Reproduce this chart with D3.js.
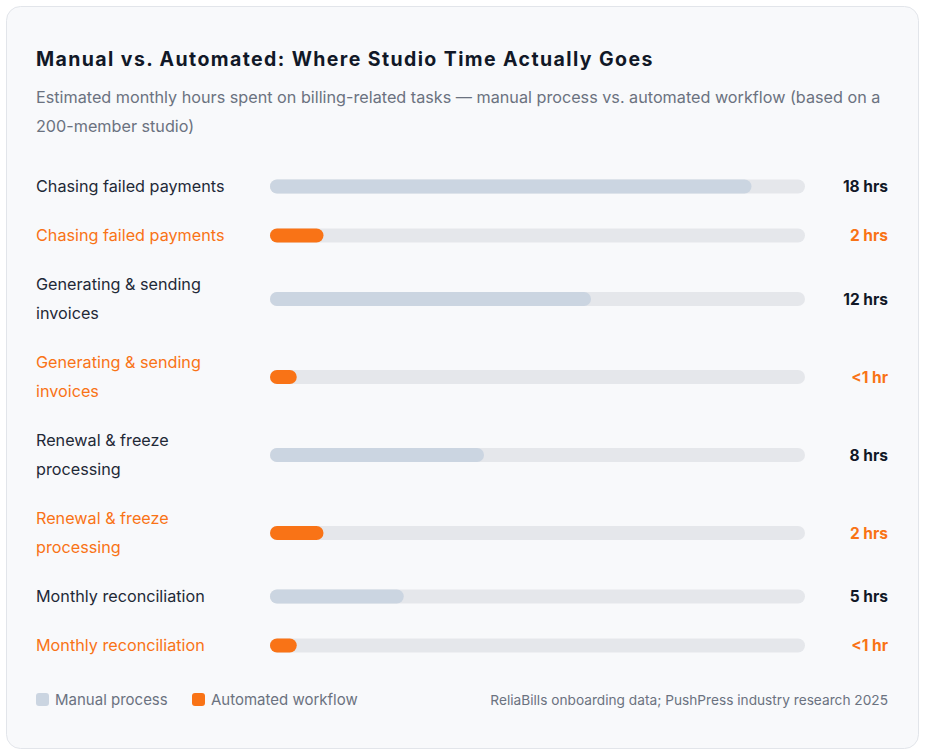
<!DOCTYPE html>
<html><head><meta charset="utf-8">
<script src="https://cdn.jsdelivr.net/npm/d3@7"></script>
<style>
body{margin:0;background:#fff;font-family:Inter,"Noto Sans",sans-serif;}
</style></head>
<body><div id="plot"></div>
<script>
// data
var tasks = ["Chasing failed payments","Chasing failed payments","Generating & sending invoices","Generating & sending invoices","Renewal & freeze processing","Renewal & freeze processing","Monthly reconciliation","Monthly reconciliation"];
var labelLines = [["Chasing failed payments"],["Chasing failed payments"],["Generating & sending","invoices"],["Generating & sending","invoices"],["Renewal & freeze","processing"],["Renewal & freeze","processing"],["Monthly reconciliation"],["Monthly reconciliation"]];
var kinds = ["manual","auto","manual","auto","manual","auto","manual","auto"];
var hours = [18,2,12,1,8,2,5,1];
var valueLabels = ["18 hrs","2 hrs","12 hrs","<1 hr","8 hrs","2 hrs","5 hrs","<1 hr"];
var legendNames = ["Manual process","Automated workflow"];

var colors = {manual:"#cbd5e1", auto:"#f97316"};
var textCol = {manual:"#1f2937", auto:"#f97316"};

var svg = d3.select('#plot').append('svg').attr('width',925).attr('height',756);

svg.append('rect').attr('x',6.5).attr('y',6.5).attr('width',912).attr('height',742)
  .attr('rx',14).attr('fill','#f8f9fb').attr('stroke','#e2e5ea');

svg.append('text').attr('x',36).attr('y',66).text('Manual vs. Automated: Where Studio Time Actually Goes')
  .attr('font-size',19.5).attr('font-weight',700).attr('fill','#111827').attr('letter-spacing','1.4');
svg.append('text').attr('x',36).attr('y',103).text('Estimated monthly hours spent on billing-related tasks \u2014 manual process vs. automated workflow (based on a')
  .attr('font-size',16.2).attr('fill','#6b7280');
svg.append('text').attr('x',36).attr('y',132).text('200-member studio)')
  .attr('font-size',16.2).attr('fill','#6b7280');

var x = d3.scaleLinear().domain([0,20]).range([270,805]);

// row centers computed from row heights
var y0 = 162, centers = [];
labelLines.forEach(function(l){
  var h = l.length==1 ? 49 : 78;
  centers.push(y0 + h/2);
  y0 += h;
});

var rows = svg.selectAll('g.row').data(hours).enter().append('g').attr('class','row')
  .attr('transform',function(d,i){return 'translate(0,'+centers[i]+')';});

rows.append('rect').attr('x',x(0)).attr('y',-7).attr('height',14).attr('rx',7)
  .attr('width',x(20)-x(0)).attr('fill','#e5e7eb');
rows.append('rect').attr('x',x(0)).attr('y',-7).attr('height',14).attr('rx',7)
  .attr('width',function(d){return x(d)-x(0);})
  .attr('fill',function(d,i){return colors[kinds[i]];});

rows.each(function(d,i){
  var g = d3.select(this), lines = labelLines[i];
  lines.forEach(function(t,j){
    g.append('text').attr('x',36).attr('y',(j-(lines.length-1)/2)*29+5.5).text(t)
      .attr('font-size',16.2).attr('fill',textCol[kinds[i]]);
  });
  g.append('text').attr('x',888).attr('y',5.5).attr('text-anchor','end').text(valueLabels[i])
    .attr('font-size',15.5).attr('font-weight',700).attr('fill',kinds[i]=='auto'?'#f97316':'#111827');
});

// legend
var lx = [36,192];
legendNames.forEach(function(n,i){
  svg.append('rect').attr('x',lx[i]).attr('y',693).attr('width',13).attr('height',13).attr('rx',3)
    .attr('fill',i==0?colors.manual:colors.auto);
  svg.append('text').attr('x',lx[i]+19).attr('y',705).text(n).attr('font-size',15).attr('fill','#6b7280');
});
svg.append('text').attr('x',888).attr('y',705).attr('text-anchor','end')
  .text('ReliaBills onboarding data; PushPress industry research 2025').attr('font-size',13.7).attr('fill','#6b7280');
</script></body></html>
